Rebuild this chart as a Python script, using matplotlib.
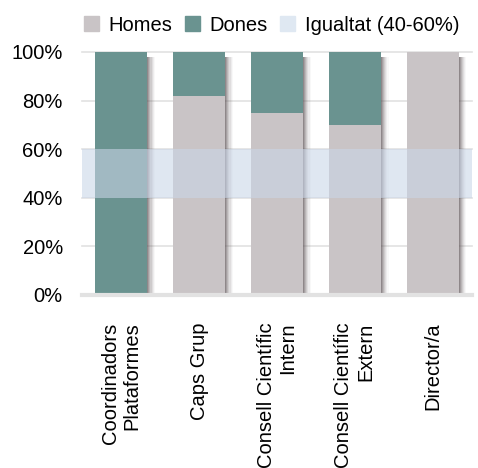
import numpy as np
import matplotlib.pyplot as plt
from matplotlib.patches import Patch

plt.rcParams['font.family'] = ['Liberation Sans', 'DejaVu Sans']

# Data (share of each group, %)
categories = ['Coordinadors\nPlataformes', 'Caps Grup', 'Consell Científic\nIntern',
              'Consell Científic\nExtern', 'Director/a']
homes = [0, 81.8, 75, 70, 100]
dones = [100, 18.2, 25, 30, 0]
band = (40, 60)

c_homes = '#c9c4c6'
c_dones = '#6a9390'
c_band = (0.79, 0.84, 0.91, 0.58)
fs = 14.5

fig = plt.figure(figsize=(4.78, 4.68), dpi=100)
ax = fig.add_axes([0.172, 0.370, 0.815, 0.519])

x = np.arange(len(categories))
w = 0.667
h = np.array(homes) / 100
d = np.array(dones) / 100

# grid lines
for yv in np.arange(0.2, 1.01, 0.2):
    ax.axhline(yv, color='#e2e2e2', lw=1.2, zorder=0, clip_on=False)
ax.axhline(0, color='#e2e2e2', lw=3, zorder=4, clip_on=False)

# soft shadow on the right of each bar
steps = 7
for k in range(steps):
    off = w / 2 + k * 0.014
    a = 0.7 * (1 - k / steps) ** 1.5
    ax.bar(x + off + 0.007, h + d - 0.02, width=0.014, bottom=0,
           color='#5e5457', alpha=a, lw=0, zorder=1)

ax.bar(x, h, width=w, color=c_homes, lw=0, zorder=2)
ax.bar(x, d, width=w, bottom=h, color=c_dones, lw=0, zorder=2)

ax.axhspan(band[0] / 100, band[1] / 100, color=c_band, lw=0, zorder=3)

ax.set_xlim(-0.5, len(categories) - 0.5)
ax.set_ylim(0, 1)
ax.set_yticks(np.arange(0, 1.01, 0.2))
ax.set_yticklabels([f'{int(v)}%' for v in np.arange(0, 101, 20)], fontsize=fs)
ax.set_xticks(x)
ax.set_xticklabels(categories, rotation=90, fontsize=fs, ha='center', va='top',
                   multialignment='right', linespacing=1.2)
ax.tick_params(axis='both', length=0)
ax.tick_params(axis='y', pad=14)
ax.tick_params(axis='x', pad=20)
for s in ax.spines.values():
    s.set_visible(False)

handles = [Patch(color=c_homes), Patch(color=c_dones), Patch(color='#dfe8f2')]
fig.legend(handles, ['Homes', 'Dones', 'Igualtat (40-60%)'], loc='upper right',
           bbox_to_anchor=(1.0, 1.005), ncol=3, frameon=False, fontsize=fs,
           handlelength=0.75, handleheight=0.75, handletextpad=0.5, columnspacing=0.6)

fig.savefig('out.png', dpi=100)
